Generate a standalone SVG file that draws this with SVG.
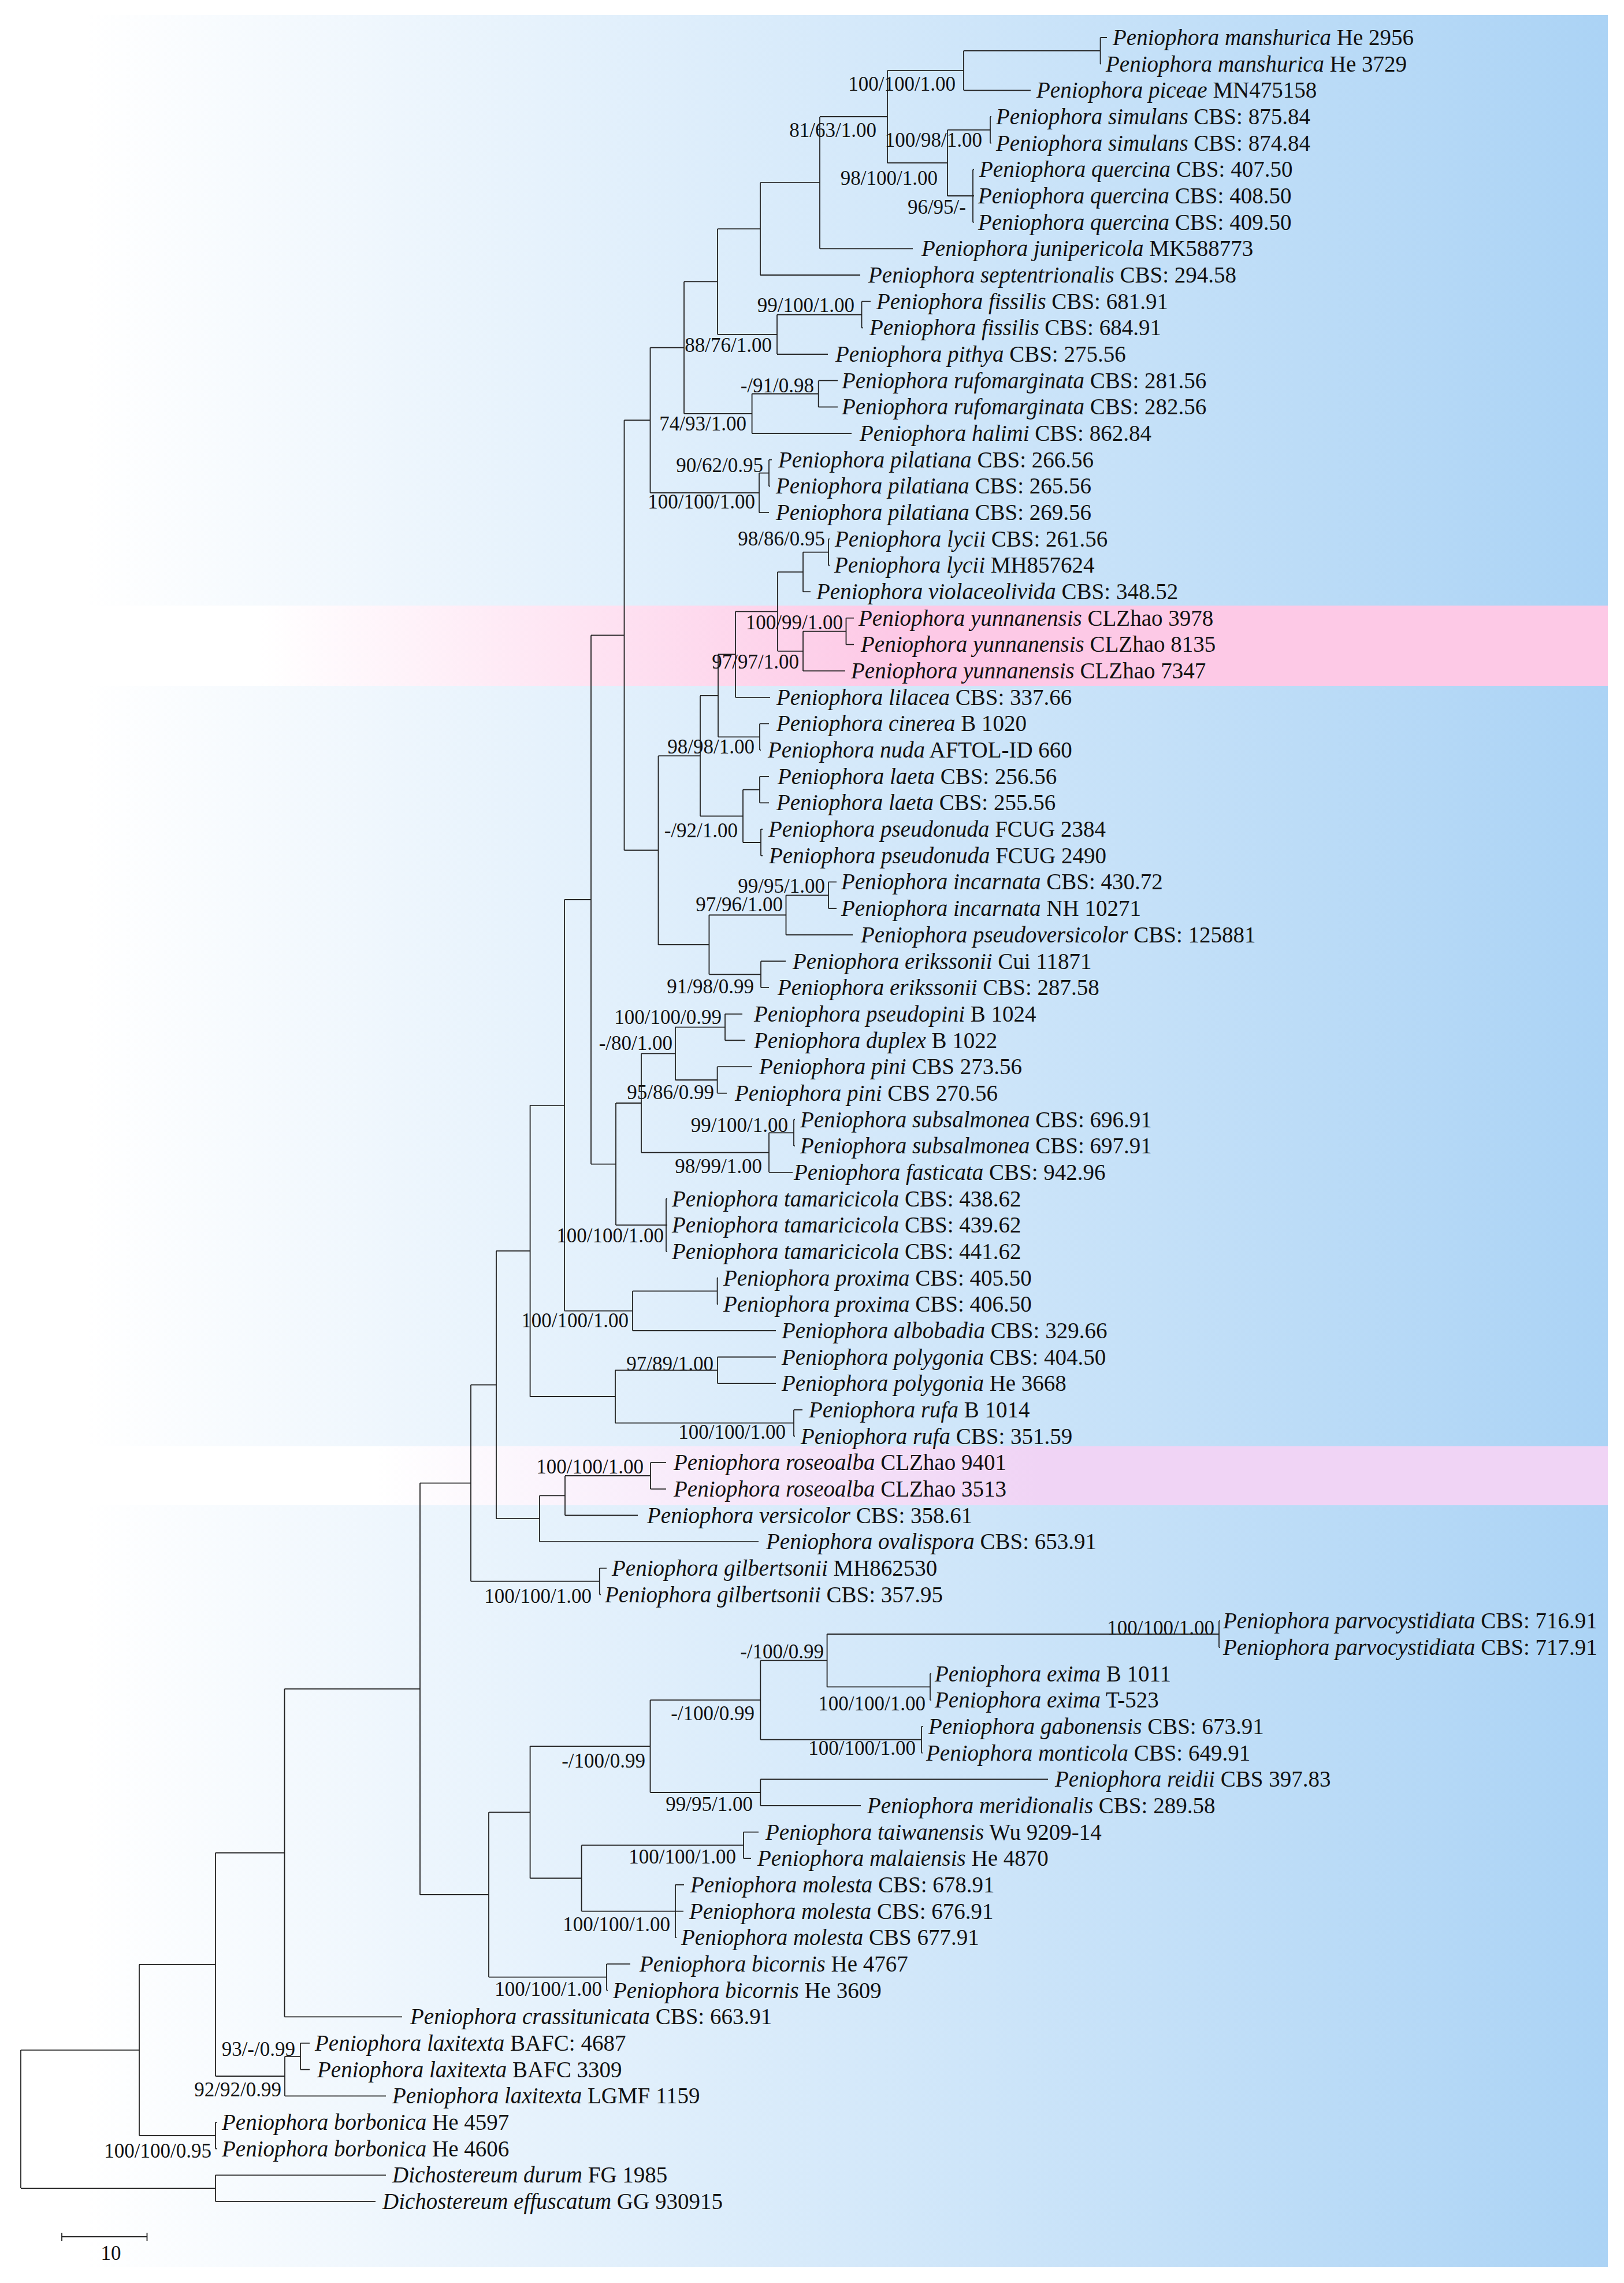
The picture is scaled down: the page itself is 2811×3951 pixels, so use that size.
<svg xmlns="http://www.w3.org/2000/svg" width="2811" height="3951" viewBox="0 0 2811 3951">
<defs>
<linearGradient id="gBlue" gradientUnits="userSpaceOnUse" x1="150" y1="0" x2="2783" y2="0">
<stop offset="0" stop-color="#ffffff"/><stop offset="1" stop-color="#abd3f5"/>
</linearGradient>
<linearGradient id="gPink" gradientUnits="userSpaceOnUse" x1="450" y1="0" x2="1550" y2="0">
<stop offset="0" stop-color="#ffffff"/><stop offset="1" stop-color="#fdc9e6"/>
</linearGradient>
<linearGradient id="gPurple" gradientUnits="userSpaceOnUse" x1="650" y1="0" x2="1800" y2="0">
<stop offset="0" stop-color="#ffffff"/><stop offset="1" stop-color="#f0d4f5"/>
</linearGradient>
<style>
.br{fill:none;stroke:#222;stroke-width:1.8}
.tip{font-family:"Liberation Serif","Times New Roman",serif;font-size:39px;fill:#111}
.i{font-style:italic}
.sup{font-family:"Liberation Serif","Times New Roman",serif;font-size:35px;text-anchor:end;fill:#111}
</style>
</defs>
<rect x="0" y="0" width="2811" height="3951" fill="#ffffff"/>
<g id="background">
<rect x="30" y="26" width="2753" height="3897" fill="url(#gBlue)"/>
<rect x="30" y="1048" width="2753" height="139" fill="url(#gPink)"/>
<rect x="30" y="2503" width="2753" height="102" fill="url(#gPurple)"/>
</g>
<g id="connectors">
<path class="br" id="b-nA1" d="M1904.6 65V110.7M1904.6 65H1916M1904.6 110.7H1906"/>
<path class="br" id="b-nA2" d="M1668 87.8V156.3M1668 87.8H1904.6M1668 156.3H1784"/>
<path class="br" id="b-nA3" d="M1714 202V247.7M1714 202H1716M1714 247.7H1716"/>
<path class="br" id="b-nA4" d="M1684 293.4V384.7M1684 293.4H1686M1684 339H1686M1684 384.7H1686"/>
<path class="br" id="b-nA5" d="M1640 224.9V339M1640 224.9H1714M1640 339H1684"/>
<path class="br" id="b-nA6" d="M1536 122.1V281.9M1536 122.1H1668M1536 281.9H1640"/>
<path class="br" id="b-nA7" d="M1419 202V430.4M1419 202H1536M1419 430.4H1580"/>
<path class="br" id="b-nA8" d="M1316 316.2V476M1316 316.2H1419M1316 476H1489"/>
<path class="br" id="b-nA9" d="M1491.5 521.7V567.4M1491.5 521.7H1507M1491.5 567.4H1494"/>
<path class="br" id="b-nA10" d="M1345 544.5V613M1345 544.5H1491.5M1345 613H1433"/>
<path class="br" id="b-nA11" d="M1242 396.1V578.8M1242 396.1H1316M1242 578.8H1345"/>
<path class="br" id="b-nA12" d="M1416.7 658.7V704.4M1416.7 658.7H1450M1416.7 704.4H1450"/>
<path class="br" id="b-nA13" d="M1301.6 681.5V750.1M1301.6 681.5H1416.7M1301.6 750.1H1474"/>
<path class="br" id="b-nA14" d="M1184 487.4V715.8M1184 487.4H1242M1184 715.8H1301.6"/>
<path class="br" id="b-nA15" d="M1331 795.7V841.4M1331 795.7H1336M1331 841.4H1333"/>
<path class="br" id="b-nA16" d="M1314 818.6V887.1M1314 818.6H1331M1314 887.1H1331"/>
<path class="br" id="b-nA17" d="M1125.5 601.6V852.8M1125.5 601.6H1184M1125.5 852.8H1314"/>
<path class="br" id="b-nB1" d="M1434 932.7V978.4M1434 932.7H1436M1434 978.4H1436"/>
<path class="br" id="b-nB2" d="M1390 955.6V1024.1M1390 955.6H1434M1390 1024.1H1403"/>
<path class="br" id="b-nB3" d="M1464.5 1069.7V1115.4M1464.5 1069.7H1478M1464.5 1115.4H1478"/>
<path class="br" id="b-nB4" d="M1390 1092.6V1161.1M1390 1092.6H1464.5M1390 1161.1H1463"/>
<path class="br" id="b-nB5" d="M1346 989.8V1126.8M1346 989.8H1390M1346 1126.8H1390"/>
<path class="br" id="b-nB6" d="M1273 1058.3V1206.8M1273 1058.3H1346M1273 1206.8H1333"/>
<path class="br" id="b-nB7" d="M1315 1252.4V1298.1M1315 1252.4H1331M1315 1298.1H1317"/>
<path class="br" id="b-nB8" d="M1243 1132.5V1275.3M1243 1132.5H1273M1243 1275.3H1315"/>
<path class="br" id="b-nB9" d="M1315 1343.8V1389.4M1315 1343.8H1331M1315 1389.4H1331"/>
<path class="br" id="b-nB10" d="M1317 1435.1V1480.8M1317 1435.1H1320M1317 1480.8H1320"/>
<path class="br" id="b-nB11" d="M1286 1366.6V1458M1286 1366.6H1315M1286 1458H1317"/>
<path class="br" id="b-nB12" d="M1212 1203.9V1412.3M1212 1203.9H1243M1212 1412.3H1286"/>
<path class="br" id="b-nB13" d="M1434 1526.4V1572.1M1434 1526.4H1448M1434 1572.1H1448"/>
<path class="br" id="b-nB14" d="M1360.5 1549.3V1617.8M1360.5 1549.3H1434M1360.5 1617.8H1476"/>
<path class="br" id="b-nB15" d="M1317 1663.5V1709.1M1317 1663.5H1360M1317 1709.1H1331"/>
<path class="br" id="b-nB16" d="M1227.4 1583.5V1686.3M1227.4 1583.5H1360.5M1227.4 1686.3H1317"/>
<path class="br" id="b-nB17" d="M1139.5 1308.1V1634.9M1139.5 1308.1H1212M1139.5 1634.9H1227.4"/>
<path class="br" id="b-nB18" d="M1080.5 727.2V1471.5M1080.5 727.2H1125.5M1080.5 1471.5H1139.5"/>
<path class="br" id="b-nC1" d="M1255 1754.8V1800.5M1255 1754.8H1285M1255 1800.5H1290"/>
<path class="br" id="b-nC2" d="M1241.6 1846.1V1891.8M1241.6 1846.1H1302M1241.6 1891.8H1258"/>
<path class="br" id="b-nC3" d="M1169 1777.6V1869M1169 1777.6H1255M1169 1869H1241.6"/>
<path class="br" id="b-nC4" d="M1374 1937.5V1983.1M1374 1937.5H1376M1374 1983.1H1376"/>
<path class="br" id="b-nC5" d="M1331 1960.3V2028.8M1331 1960.3H1374M1331 2028.8H1372"/>
<path class="br" id="b-nC6" d="M1110 1823.3V1994.6M1110 1823.3H1169M1110 1994.6H1331"/>
<path class="br" id="b-nC7" d="M1153 2074.5V2165.8M1153 2074.5H1155M1153 2120.2H1155M1153 2165.8H1155"/>
<path class="br" id="b-nC8" d="M1066 1909V2120.2M1066 1909H1110M1066 2120.2H1153"/>
<path class="br" id="b-nC9" d="M1023 1099.4V2014.6M1023 1099.4H1080.5M1023 2014.6H1066"/>
<path class="br" id="b-nC10" d="M1241.6 2211.5V2257.2M1241.6 2211.5H1243M1241.6 2257.2H1243"/>
<path class="br" id="b-nC11" d="M1095 2234.3V2302.8M1095 2234.3H1241.6M1095 2302.8H1343"/>
<path class="br" id="b-nC12" d="M977 1557V2268.6M977 1557H1023M977 2268.6H1095"/>
<path class="br" id="b-nD1" d="M1242 2348.5V2394.2M1242 2348.5H1343M1242 2394.2H1343"/>
<path class="br" id="b-nD2" d="M1374 2439.8V2485.5M1374 2439.8H1389M1374 2485.5H1376"/>
<path class="br" id="b-nD3" d="M1065 2371.3V2462.7M1065 2371.3H1242M1065 2462.7H1374"/>
<path class="br" id="b-nD4" d="M917.6 1912.8V2417M917.6 1912.8H977M917.6 2417H1065"/>
<path class="br" id="b-nD5" d="M1126 2531.2V2576.9M1126 2531.2H1153M1126 2576.9H1153"/>
<path class="br" id="b-nD6" d="M978 2554V2622.5M978 2554H1126M978 2622.5H1104"/>
<path class="br" id="b-nD7" d="M934 2588.3V2668.2M934 2588.3H978M934 2668.2H1313"/>
<path class="br" id="b-nD8" d="M859 2164.9V2628.2M859 2164.9H917.6M859 2628.2H934"/>
<path class="br" id="b-nD9" d="M1037.8 2713.9V2759.5M1037.8 2713.9H1050M1037.8 2759.5H1040"/>
<path class="br" id="b-nD10" d="M815 2396.6V2736.7M815 2396.6H859M815 2736.7H1037.8"/>
<path class="br" id="b-nE1" d="M2110 2805.2V2850.9M2110 2805.2H2112M2110 2850.9H2112"/>
<path class="br" id="b-nE2" d="M1610 2896.5V2942.2M1610 2896.5H1612M1610 2942.2H1612"/>
<path class="br" id="b-nE3" d="M1431.6 2828V2919.4M1431.6 2828H2110M1431.6 2919.4H1610"/>
<path class="br" id="b-nE4" d="M1595 2987.9V3033.6M1595 2987.9H1598M1595 3033.6H1597"/>
<path class="br" id="b-nE5" d="M1316.3 2873.7V3010.7M1316.3 2873.7H1431.6M1316.3 3010.7H1595"/>
<path class="br" id="b-nE6" d="M1316.3 3079.2V3124.9M1316.3 3079.2H1814M1316.3 3124.9H1490"/>
<path class="br" id="b-nE7" d="M1125.5 2942.2V3102M1125.5 2942.2H1316.3M1125.5 3102H1316.3"/>
<path class="br" id="b-nE8" d="M1287 3170.6V3216.2M1287 3170.6H1313M1287 3216.2H1300"/>
<path class="br" id="b-nE9" d="M1169 3261.9V3353.2M1169 3261.9H1184M1169 3307.6H1183M1169 3353.2H1171"/>
<path class="br" id="b-nE10" d="M1006.6 3193.4V3307.6M1006.6 3193.4H1287M1006.6 3307.6H1169"/>
<path class="br" id="b-nE11" d="M917.6 3022.1V3250.5M917.6 3022.1H1125.5M917.6 3250.5H1006.6"/>
<path class="br" id="b-nE12" d="M1050 3398.9V3444.6M1050 3398.9H1091M1050 3444.6H1052"/>
<path class="br" id="b-nE13" d="M846 3136.3V3421.7M846 3136.3H917.6M846 3421.7H1050"/>
<path class="br" id="b-nE14" d="M727 2566.6V3279M727 2566.6H815M727 3279H846"/>
<path class="br" id="b-nE15" d="M492.5 2922.8V3490.3M492.5 2922.8H727M492.5 3490.3H696"/>
<path class="br" id="b-nF1" d="M520 3535.9V3581.6M520 3535.9H536M520 3581.6H536"/>
<path class="br" id="b-nF2" d="M493 3558.8V3627.3M493 3558.8H520M493 3627.3H668"/>
<path class="br" id="b-nF3" d="M373 3206.5V3593M373 3206.5H492.5M373 3593H493"/>
<path class="br" id="b-nF4" d="M373 3672.9V3718.6M373 3672.9H376M373 3718.6H376"/>
<path class="br" id="b-nF5" d="M241 3399.8V3695.8M241 3399.8H373M241 3695.8H373"/>
<path class="br" id="b-nF6" d="M373 3764.3V3809.9M373 3764.3H668M373 3809.9H650"/>
<path class="br" id="b-root" d="M36 3547.8V3787.1M36 3547.8H241M36 3787.1H373"/>
</g>
<g id="support-values">
<g id="n-nA2"><text class="sup" x="1654" y="157">100/100/1.00</text></g>
<g id="n-nA6"><text class="sup" x="1517" y="237">81/63/1.00</text></g>
<g id="n-nA3"><text class="sup" x="1700" y="254">100/98/1.00</text></g>
<g id="n-nA5"><text class="sup" x="1623" y="320">98/100/1.00</text></g>
<g id="n-nA4"><text class="sup" x="1672" y="370">96/95/-</text></g>
<g id="n-nA9"><text class="sup" x="1479" y="540">99/100/1.00</text></g>
<g id="n-nA10"><text class="sup" x="1336" y="609">88/76/1.00</text></g>
<g id="n-nA12"><text class="sup" x="1409" y="679">-/91/0.98</text></g>
<g id="n-nA13"><text class="sup" x="1292" y="745">74/93/1.00</text></g>
<g id="n-nA15"><text class="sup" x="1321" y="817">90/62/0.95</text></g>
<g id="n-nA16"><text class="sup" x="1307" y="880">100/100/1.00</text></g>
<g id="n-nB1"><text class="sup" x="1428" y="944">98/86/0.95</text></g>
<g id="n-nB3"><text class="sup" x="1459" y="1089">100/99/1.00</text></g>
<g id="n-nB4"><text class="sup" x="1383" y="1157">97/97/1.00</text></g>
<g id="n-nB7"><text class="sup" x="1306" y="1304">98/98/1.00</text></g>
<g id="n-nB11"><text class="sup" x="1277" y="1449">-/92/1.00</text></g>
<g id="n-nB13"><text class="sup" x="1428" y="1545">99/95/1.00</text></g>
<g id="n-nB14"><text class="sup" x="1355" y="1577">97/96/1.00</text></g>
<g id="n-nB15"><text class="sup" x="1305" y="1719">91/98/0.99</text></g>
<g id="n-nC1"><text class="sup" x="1249" y="1772">100/100/0.99</text></g>
<g id="n-nC3"><text class="sup" x="1164" y="1817">-/80/1.00</text></g>
<g id="n-nC2"><text class="sup" x="1236" y="1902">95/86/0.99</text></g>
<g id="n-nC4"><text class="sup" x="1364" y="1959">99/100/1.00</text></g>
<g id="n-nC5"><text class="sup" x="1319" y="2030">98/99/1.00</text></g>
<g id="n-nC7"><text class="sup" x="1149" y="2150">100/100/1.00</text></g>
<g id="n-nC11"><text class="sup" x="1088" y="2297">100/100/1.00</text></g>
<g id="n-nD1"><text class="sup" x="1235" y="2372">97/89/1.00</text></g>
<g id="n-nD2"><text class="sup" x="1360" y="2490">100/100/1.00</text></g>
<g id="n-nD5"><text class="sup" x="1114" y="2550">100/100/1.00</text></g>
<g id="n-nD9"><text class="sup" x="1024" y="2774">100/100/1.00</text></g>
<g id="n-nE1"><text class="sup" x="2102" y="2829">100/100/1.00</text></g>
<g id="n-nE3"><text class="sup" x="1426" y="2870">-/100/0.99</text></g>
<g id="n-nE2"><text class="sup" x="1602" y="2960">100/100/1.00</text></g>
<g id="n-nE5"><text class="sup" x="1306" y="2977">-/100/0.99</text></g>
<g id="n-nE4"><text class="sup" x="1585" y="3037">100/100/1.00</text></g>
<g id="n-nE7"><text class="sup" x="1117" y="3059">-/100/0.99</text></g>
<g id="n-nE6"><text class="sup" x="1303" y="3134">99/95/1.00</text></g>
<g id="n-nE8"><text class="sup" x="1274" y="3225">100/100/1.00</text></g>
<g id="n-nE9"><text class="sup" x="1160" y="3342">100/100/1.00</text></g>
<g id="n-nE12"><text class="sup" x="1042" y="3454">100/100/1.00</text></g>
<g id="n-nF1"><text class="sup" x="511" y="3558">93/-/0.99</text></g>
<g id="n-nF2"><text class="sup" x="487" y="3628">92/92/0.99</text></g>
<g id="n-nF4"><text class="sup" x="366" y="3734">100/100/0.95</text></g>
</g>
<g id="tips">
<g id="t1"><text class="tip" x="1926" y="78"><tspan class="i">Peniophora manshurica</tspan> He 2956</text></g>
<g id="t2"><text class="tip" x="1914" y="123.7"><tspan class="i">Peniophora manshurica</tspan> He 3729</text></g>
<g id="t3"><text class="tip" x="1794" y="169.3"><tspan class="i">Peniophora piceae</tspan> MN475158</text></g>
<g id="t4"><text class="tip" x="1724" y="215"><tspan class="i">Peniophora simulans</tspan> CBS: 875.84</text></g>
<g id="t5"><text class="tip" x="1724" y="260.7"><tspan class="i">Peniophora simulans</tspan> CBS: 874.84</text></g>
<g id="t6"><text class="tip" x="1695" y="306.4"><tspan class="i">Peniophora quercina</tspan> CBS: 407.50</text></g>
<g id="t7"><text class="tip" x="1693" y="352"><tspan class="i">Peniophora quercina</tspan> CBS: 408.50</text></g>
<g id="t8"><text class="tip" x="1693" y="397.7"><tspan class="i">Peniophora quercina</tspan> CBS: 409.50</text></g>
<g id="t9"><text class="tip" x="1595" y="443.4"><tspan class="i">Peniophora junipericola</tspan> MK588773</text></g>
<g id="t10"><text class="tip" x="1503" y="489"><tspan class="i">Peniophora septentrionalis</tspan> CBS: 294.58</text></g>
<g id="t11"><text class="tip" x="1517" y="534.7"><tspan class="i">Peniophora fissilis</tspan> CBS: 681.91</text></g>
<g id="t12"><text class="tip" x="1505" y="580.4"><tspan class="i">Peniophora fissilis</tspan> CBS: 684.91</text></g>
<g id="t13"><text class="tip" x="1446" y="626"><tspan class="i">Peniophora pithya</tspan> CBS: 275.56</text></g>
<g id="t14"><text class="tip" x="1457" y="671.7"><tspan class="i">Peniophora rufomarginata</tspan> CBS: 281.56</text></g>
<g id="t15"><text class="tip" x="1457" y="717.4"><tspan class="i">Peniophora rufomarginata</tspan> CBS: 282.56</text></g>
<g id="t16"><text class="tip" x="1488" y="763.1"><tspan class="i">Peniophora halimi</tspan> CBS: 862.84</text></g>
<g id="t17"><text class="tip" x="1347" y="808.7"><tspan class="i">Peniophora pilatiana</tspan> CBS: 266.56</text></g>
<g id="t18"><text class="tip" x="1343" y="854.4"><tspan class="i">Peniophora pilatiana</tspan> CBS: 265.56</text></g>
<g id="t19"><text class="tip" x="1343" y="900.1"><tspan class="i">Peniophora pilatiana</tspan> CBS: 269.56</text></g>
<g id="t20"><text class="tip" x="1445" y="945.7"><tspan class="i">Peniophora lycii</tspan> CBS: 261.56</text></g>
<g id="t21"><text class="tip" x="1444" y="991.4"><tspan class="i">Peniophora lycii</tspan> MH857624</text></g>
<g id="t22"><text class="tip" x="1413" y="1037.1"><tspan class="i">Peniophora violaceolivida</tspan> CBS: 348.52</text></g>
<g id="t23"><text class="tip" x="1486" y="1082.7"><tspan class="i">Peniophora yunnanensis</tspan> CLZhao 3978</text></g>
<g id="t24"><text class="tip" x="1490" y="1128.4"><tspan class="i">Peniophora yunnanensis</tspan> CLZhao 8135</text></g>
<g id="t25"><text class="tip" x="1473" y="1174.1"><tspan class="i">Peniophora yunnanensis</tspan> CLZhao 7347</text></g>
<g id="t26"><text class="tip" x="1344" y="1219.8"><tspan class="i">Peniophora lilacea</tspan> CBS: 337.66</text></g>
<g id="t27"><text class="tip" x="1344" y="1265.4"><tspan class="i">Peniophora cinerea</tspan> B 1020</text></g>
<g id="t28"><text class="tip" x="1329" y="1311.1"><tspan class="i">Peniophora nuda</tspan> AFTOL-ID 660</text></g>
<g id="t29"><text class="tip" x="1346" y="1356.8"><tspan class="i">Peniophora laeta</tspan> CBS: 256.56</text></g>
<g id="t30"><text class="tip" x="1344" y="1402.4"><tspan class="i">Peniophora laeta</tspan> CBS: 255.56</text></g>
<g id="t31"><text class="tip" x="1330" y="1448.1"><tspan class="i">Peniophora pseudonuda</tspan> FCUG 2384</text></g>
<g id="t32"><text class="tip" x="1331" y="1493.8"><tspan class="i">Peniophora pseudonuda</tspan> FCUG 2490</text></g>
<g id="t33"><text class="tip" x="1456" y="1539.4"><tspan class="i">Peniophora incarnata</tspan> CBS: 430.72</text></g>
<g id="t34"><text class="tip" x="1456" y="1585.1"><tspan class="i">Peniophora incarnata</tspan> NH 10271</text></g>
<g id="t35"><text class="tip" x="1490" y="1630.8"><tspan class="i">Peniophora pseudoversicolor</tspan> CBS: 125881</text></g>
<g id="t36"><text class="tip" x="1372" y="1676.5"><tspan class="i">Peniophora erikssonii</tspan> Cui 11871</text></g>
<g id="t37"><text class="tip" x="1346" y="1722.1"><tspan class="i">Peniophora erikssonii</tspan> CBS: 287.58</text></g>
<g id="t38"><text class="tip" x="1305" y="1767.8"><tspan class="i">Peniophora pseudopini</tspan> B 1024</text></g>
<g id="t39"><text class="tip" x="1305" y="1813.5"><tspan class="i">Peniophora duplex</tspan> B 1022</text></g>
<g id="t40"><text class="tip" x="1314" y="1859.1"><tspan class="i">Peniophora pini</tspan> CBS 273.56</text></g>
<g id="t41"><text class="tip" x="1272" y="1904.8"><tspan class="i">Peniophora pini</tspan> CBS 270.56</text></g>
<g id="t42"><text class="tip" x="1385" y="1950.5"><tspan class="i">Peniophora subsalmonea</tspan> CBS: 696.91</text></g>
<g id="t43"><text class="tip" x="1385" y="1996.1"><tspan class="i">Peniophora subsalmonea</tspan> CBS: 697.91</text></g>
<g id="t44"><text class="tip" x="1374" y="2041.8"><tspan class="i">Peniophora fasticata</tspan> CBS: 942.96</text></g>
<g id="t45"><text class="tip" x="1163" y="2087.5"><tspan class="i">Peniophora tamaricicola</tspan> CBS: 438.62</text></g>
<g id="t46"><text class="tip" x="1163" y="2133.2"><tspan class="i">Peniophora tamaricicola</tspan> CBS: 439.62</text></g>
<g id="t47"><text class="tip" x="1163" y="2178.8"><tspan class="i">Peniophora tamaricicola</tspan> CBS: 441.62</text></g>
<g id="t48"><text class="tip" x="1252" y="2224.5"><tspan class="i">Peniophora proxima</tspan> CBS: 405.50</text></g>
<g id="t49"><text class="tip" x="1252" y="2270.2"><tspan class="i">Peniophora proxima</tspan> CBS: 406.50</text></g>
<g id="t50"><text class="tip" x="1353" y="2315.8"><tspan class="i">Peniophora albobadia</tspan> CBS: 329.66</text></g>
<g id="t51"><text class="tip" x="1353" y="2361.5"><tspan class="i">Peniophora polygonia</tspan> CBS: 404.50</text></g>
<g id="t52"><text class="tip" x="1353" y="2407.2"><tspan class="i">Peniophora polygonia</tspan> He 3668</text></g>
<g id="t53"><text class="tip" x="1400" y="2452.8"><tspan class="i">Peniophora rufa</tspan> B 1014</text></g>
<g id="t54"><text class="tip" x="1386" y="2498.5"><tspan class="i">Peniophora rufa</tspan> CBS: 351.59</text></g>
<g id="t55"><text class="tip" x="1166" y="2544.2"><tspan class="i">Peniophora roseoalba</tspan> CLZhao 9401</text></g>
<g id="t56"><text class="tip" x="1166" y="2589.9"><tspan class="i">Peniophora roseoalba</tspan> CLZhao 3513</text></g>
<g id="t57"><text class="tip" x="1120" y="2635.5"><tspan class="i">Peniophora versicolor</tspan> CBS: 358.61</text></g>
<g id="t58"><text class="tip" x="1326" y="2681.2"><tspan class="i">Peniophora ovalispora</tspan> CBS: 653.91</text></g>
<g id="t59"><text class="tip" x="1059" y="2726.9"><tspan class="i">Peniophora gilbertsonii</tspan> MH862530</text></g>
<g id="t60"><text class="tip" x="1047" y="2772.5"><tspan class="i">Peniophora gilbertsonii</tspan> CBS: 357.95</text></g>
<g id="t61"><text class="tip" x="2117" y="2818.2"><tspan class="i">Peniophora parvocystidiata</tspan> CBS: 716.91</text></g>
<g id="t62"><text class="tip" x="2117" y="2863.9"><tspan class="i">Peniophora parvocystidiata</tspan> CBS: 717.91</text></g>
<g id="t63"><text class="tip" x="1618" y="2909.5"><tspan class="i">Peniophora exima</tspan> B 1011</text></g>
<g id="t64"><text class="tip" x="1618" y="2955.2"><tspan class="i">Peniophora exima</tspan> T-523</text></g>
<g id="t65"><text class="tip" x="1607" y="3000.9"><tspan class="i">Peniophora gabonensis</tspan> CBS: 673.91</text></g>
<g id="t66"><text class="tip" x="1603" y="3046.6"><tspan class="i">Peniophora monticola</tspan> CBS: 649.91</text></g>
<g id="t67"><text class="tip" x="1826" y="3092.2"><tspan class="i">Peniophora reidii</tspan> CBS 397.83</text></g>
<g id="t68"><text class="tip" x="1501" y="3137.9"><tspan class="i">Peniophora meridionalis</tspan> CBS: 289.58</text></g>
<g id="t69"><text class="tip" x="1325" y="3183.6"><tspan class="i">Peniophora taiwanensis</tspan> Wu 9209-14</text></g>
<g id="t70"><text class="tip" x="1311" y="3229.2"><tspan class="i">Peniophora malaiensis</tspan> He 4870</text></g>
<g id="t71"><text class="tip" x="1195" y="3274.9"><tspan class="i">Peniophora molesta</tspan> CBS: 678.91</text></g>
<g id="t72"><text class="tip" x="1193" y="3320.6"><tspan class="i">Peniophora molesta</tspan> CBS: 676.91</text></g>
<g id="t73"><text class="tip" x="1179" y="3366.2"><tspan class="i">Peniophora molesta</tspan> CBS 677.91</text></g>
<g id="t74"><text class="tip" x="1107" y="3411.9"><tspan class="i">Peniophora bicornis</tspan> He 4767</text></g>
<g id="t75"><text class="tip" x="1061" y="3457.6"><tspan class="i">Peniophora bicornis</tspan> He 3609</text></g>
<g id="t76"><text class="tip" x="710" y="3503.3"><tspan class="i">Peniophora crassitunicata</tspan> CBS: 663.91</text></g>
<g id="t77"><text class="tip" x="545" y="3548.9"><tspan class="i">Peniophora laxitexta</tspan> BAFC: 4687</text></g>
<g id="t78"><text class="tip" x="549" y="3594.6"><tspan class="i">Peniophora laxitexta</tspan> BAFC 3309</text></g>
<g id="t79"><text class="tip" x="679" y="3640.3"><tspan class="i">Peniophora laxitexta</tspan> LGMF 1159</text></g>
<g id="t80"><text class="tip" x="384" y="3685.9"><tspan class="i">Peniophora borbonica</tspan> He 4597</text></g>
<g id="t81"><text class="tip" x="384" y="3731.6"><tspan class="i">Peniophora borbonica</tspan> He 4606</text></g>
<g id="t82"><text class="tip" x="679" y="3777.3"><tspan class="i">Dichostereum durum</tspan> FG 1985</text></g>
<g id="t83"><text class="tip" x="662" y="3822.9"><tspan class="i">Dichostereum effuscatum</tspan> GG 930915</text></g>
</g>
<g id="scale-bar">
<path class="br" d="M107 3871H254.5M107 3864V3878M254.5 3864V3878"/>
<text class="sup" style="text-anchor:middle" x="192" y="3911">10</text>
</g>
</svg>
